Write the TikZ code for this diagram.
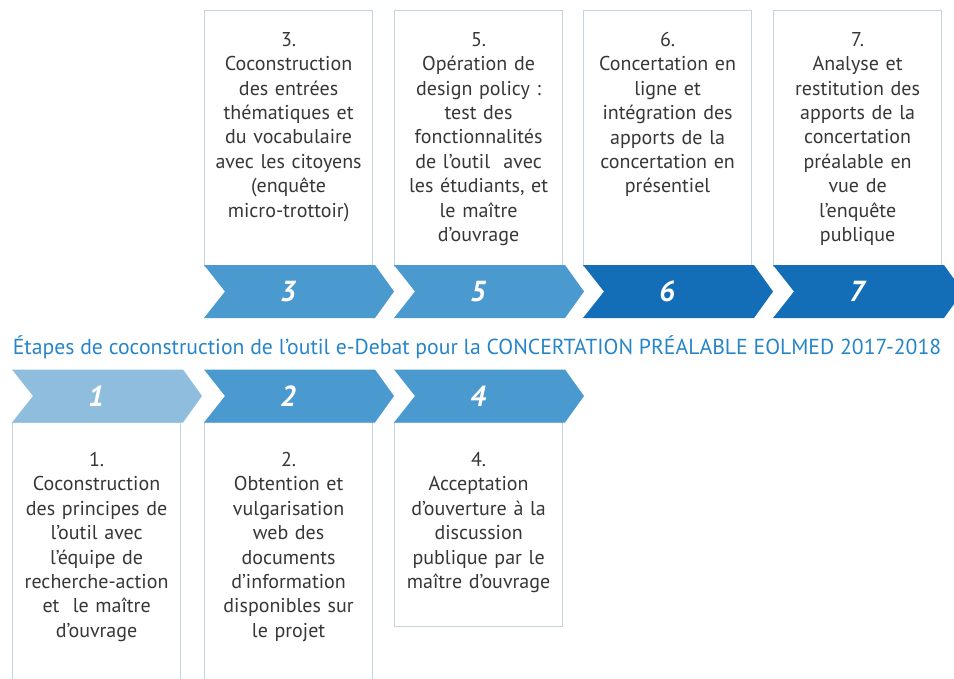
\documentclass[tikz,border=0pt]{standalone}
\usepackage{fontspec}
\setmainfont{PT Sans}
\usepackage{tikz}
\usetikzlibrary{positioning}
\definecolor{lightchev}{RGB}{143,189,222}
\definecolor{midchev}{RGB}{74,153,207}
\definecolor{darkchev}{RGB}{20,110,183}
\definecolor{framegrey}{RGB}{196,211,226}
\definecolor{titleblue}{RGB}{38,133,200}
\definecolor{bodygrey}{RGB}{55,55,55}

% chevron: left x, top y, colour
\newcommand{\chevron}[3]{%
  \fill[#3] (#1,#2) -- ++(171,0) -- ++(19,26.5) -- ++(-19,26.5) -- ++(-171,0) -- ++(21,-26.5) -- cycle;}

\begin{document}
\begin{tikzpicture}[x=1pt, y=-1pt,
    stepbox/.style={rectangle, draw=framegrey, line width=1.2pt, fill=white, minimum width=168pt, anchor=north west, inner sep=0pt},
    steptext/.style={text width=178pt, align=center, inner sep=0pt, font=\fontsize{20}{24.4}\selectfont, text=bodygrey},
    stepnum/.style={text=white, font=\fontsize{29}{29}\selectfont\bfseries\itshape},
    title/.style={text=titleblue, font=\fontsize{21.7}{24}\selectfont}
]
\clip (0,0) rectangle (954,678);

% Upper row: steps 3, 5, 6, 7
\node[stepbox, minimum height=256pt] (b3) at (204,10) {};
\node[stepbox, minimum height=256pt] (b5) at (394,10) {};
\node[stepbox, minimum height=256pt] (b6) at (583,10) {};
\node[stepbox, minimum height=256pt] (b7) at (773,10) {};

\node[steptext, below=22pt of b3.north] (t3) {3.\\Coconstruction\\des entrées\\thématiques et\\du vocabulaire\\avec les citoyens\\(enquête\\micro-trottoir)};
\node[steptext, below=22pt of b5.north] (t5) {5.\\Opération de\\design policy :\\test des\\fonctionnalités\\de l’outil \ avec\\les étudiants, et\\le maître\\d’ouvrage};
\node[steptext, below=22pt of b6.north] (t6) {6.\\Concertation en\\ligne et\\intégration des\\apports de la\\concertation en\\présentiel};
\node[steptext, below=22pt of b7.north] (t7) {7.\\Analyse et\\restitution des\\apports de la\\concertation\\préalable en\\vue de\\l’enquête\\publique};

\chevron{204}{265}{midchev}
\chevron{394}{265}{midchev}
\chevron{583}{265}{darkchev}
\chevron{773}{265}{darkchev}

\node[stepnum] (n3) at (288,291.5) {3};
\node[stepnum] (n5) at (478,291.5) {5};
\node[stepnum] (n6) at (667,291.5) {6};
\node[stepnum] (n7) at (857,291.5) {7};

% Title
\node[title] (ttl) at (477,347) {Étapes de coconstruction de l’outil e-Debat pour la CONCERTATION PRÉALABLE EOLMED 2017-2018};

% Lower row: steps 1, 2, 4
\node[stepbox, minimum height=300pt] (b1) at (12,422) {};
\node[stepbox, minimum height=300pt] (b2) at (204,422) {};
\node[stepbox, minimum height=204pt] (b4) at (394,422) {};

\node[steptext, below=30pt of b1.north] (t1) {1.\\Coconstruction\\des principes de\\l’outil avec\\l’équipe de\\recherche-action\\et \ le maître\\d’ouvrage};
\node[steptext, below=30pt of b2.north] (t2) {2.\\Obtention et\\vulgarisation\\web des\\documents\\d’information\\disponibles sur\\le projet};
\node[steptext, below=30pt of b4.north] (t4) {4.\\Acceptation\\d’ouverture à la\\discussion\\publique par le\\maître d’ouvrage};

\chevron{12}{369.5}{lightchev}
\chevron{204}{369.5}{midchev}
\chevron{394}{369.5}{midchev}

\node[stepnum] (n1) at (96,396) {1};
\node[stepnum] (n2) at (288,396) {2};
\node[stepnum] (n4) at (478,396) {4};

\end{tikzpicture}
\end{document}
